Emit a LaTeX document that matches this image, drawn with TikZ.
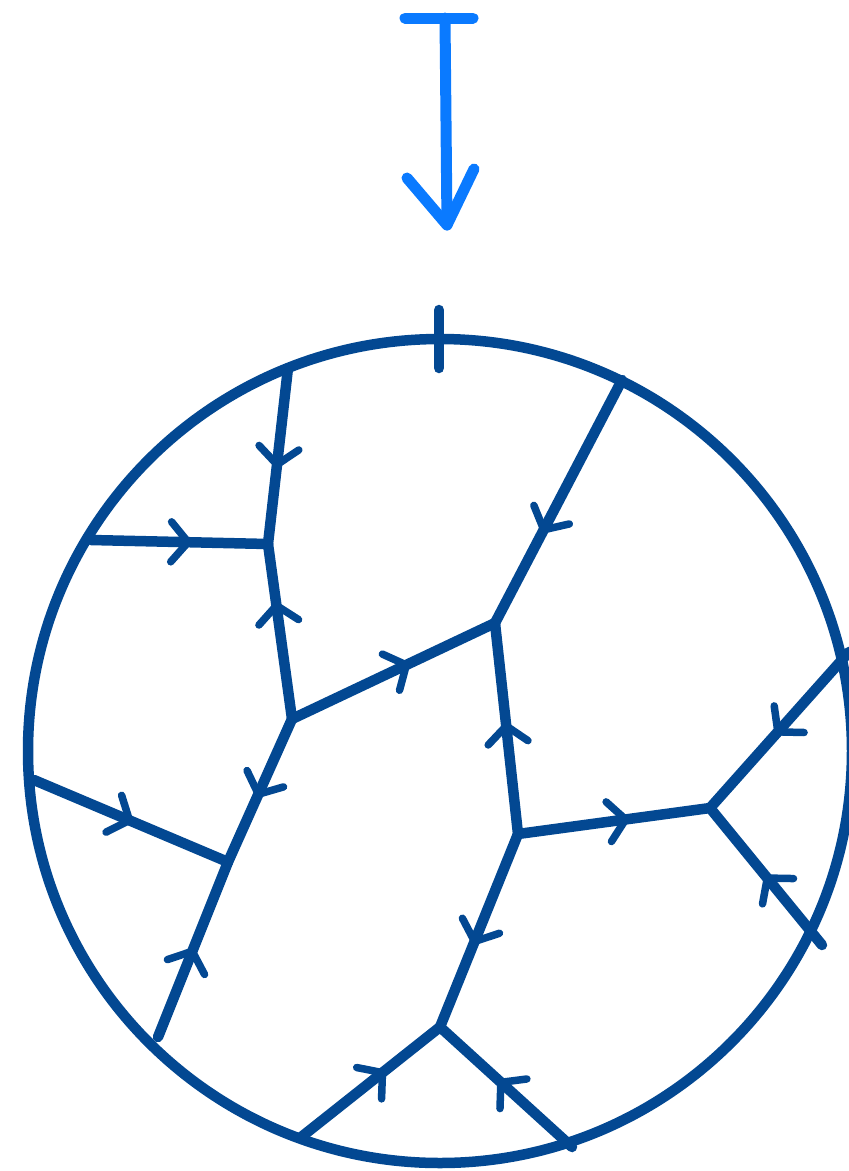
\documentclass[tikz,border=0pt]{standalone}
\usetikzlibrary{arrows.meta,decorations.markings}
\definecolor{darkblue}{RGB}{3,72,146}
\definecolor{lightblue}{RGB}{10,122,255}
\begin{document}
\begin{tikzpicture}[x=1pt,y=-1pt,
    edge/.style={color=darkblue,line width=10.5pt,line cap=round,postaction={decorate},
      decoration={markings,mark=at position #1 with {\arrow{Straight Barb[length=17pt,width=40pt,line width=7.5pt,round]}}}},
    edge/.default=0.55]
  \useasboundingbox (0,0) rectangle (849,1171);
  % incoming arrow
  \begin{scope}[lightblue,line width=11pt,line cap=round,line join=round]
    \coordinate (barl) at (405,18);
    \coordinate (barr) at (473,18);
    \coordinate (top) at (445,18);
    \coordinate (tip) at (447,225);
    \coordinate (wingl) at (407,178);
    \coordinate (wingr) at (474,169);
    \draw (barl) -- (barr);
    \draw (top) -- (tip);
    \draw (wingl) -- (tip) -- (wingr);
  \end{scope}
  % disc
  \draw[darkblue,line width=10.5pt] (440,751) circle (412);
  \coordinate (ticka) at (439,310);
  \coordinate (tickb) at (439,368);
  \draw[darkblue,line width=10.5pt,line cap=round] (ticka) -- (tickb);
  % vertices
  \coordinate (A) at (288,368);
  \coordinate (B) at (268,544);
  \coordinate (C) at (91,540);
  \coordinate (D) at (292,719);
  \coordinate (E) at (495,623);
  \coordinate (F) at (622,380);
  \coordinate (G) at (228,862);
  \coordinate (H) at (34,780);
  \coordinate (I) at (158,1037);
  \coordinate (J) at (518,834);
  \coordinate (K) at (710,808);
  \coordinate (L) at (849,652);
  \coordinate (M) at (822,945);
  \coordinate (N) at (440,1027);
  \coordinate (O) at (300,1138);
  \coordinate (P) at (572,1147);
  % edges
  \draw[edge=0.57] (A) -- (B);
  \draw[edge=0.57] (C) -- (B);
  \draw[edge=0.67] (D) -- (B);
  \draw[edge=0.58] (D) -- (E);
  \draw[edge=0.63] (F) -- (E);
  \draw[edge=0.55] (D) -- (G);
  \draw[edge=0.51] (H) -- (G);
  \draw[edge=0.51] (I) -- (G);
  \draw[edge=0.53] (J) -- (E);
  \draw[edge=0.58] (J) -- (K);
  \draw[edge=0.53] (L) -- (K);
  \draw[edge=0.51] (M) -- (K);
  \draw[edge=0.575] (J) -- (N);
  \draw[edge=0.61] (O) -- (N);
  \draw[edge=0.56] (P) -- (N);
\end{tikzpicture}
\end{document}
